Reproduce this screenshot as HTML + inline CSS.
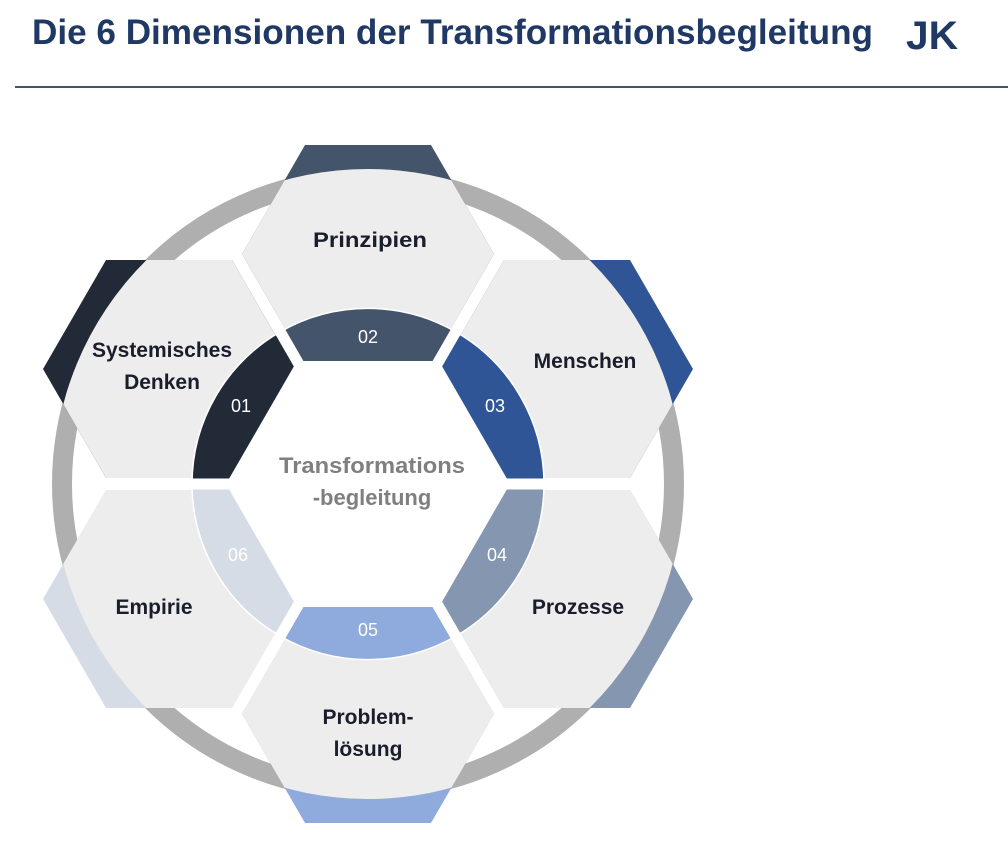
<!DOCTYPE html>
<html><head><meta charset="utf-8"><style>
html,body{margin:0;padding:0;background:#fff;}
body{width:1008px;height:863px;overflow:hidden;position:relative;font-family:"Liberation Sans",sans-serif;}
.ln{position:absolute;left:15px;top:86px;width:993px;height:2px;background:#44546a;}
svg{position:absolute;left:0;top:0;}
</style></head><body>
<div class="ln"></div>
<svg width="1008" height="863" viewBox="0 0 1008 863" font-family="'Liberation Sans',sans-serif">
<text x="32" y="44" font-size="35" font-weight="bold" fill="#1f3864" textLength="841" lengthAdjust="spacingAndGlyphs">Die 6 Dimensionen der Transformationsbegleitung</text>
<text x="906" y="49" font-size="40" font-weight="bold" fill="#1f3864" textLength="52" lengthAdjust="spacingAndGlyphs">JK</text>
<defs><clipPath id="d"><circle cx="368" cy="484" r="315"/></clipPath></defs>
<circle cx="368" cy="484" r="306" fill="none" stroke="#afafaf" stroke-width="20"/>
<g>
<polygon fill="#44546a" points="242,254 305,145 431,145 494,254 431,363 305,363"/>
<polygon fill="#2f5597" points="441,369 504,260 630,260 693,369 630,478 504,478"/>
<polygon fill="#8496b0" points="441,599 504,490 630,490 693,599 630,708 504,708"/>
<polygon fill="#8faadc" points="242,714 305,605 431,605 494,714 431,823 305,823"/>
<polygon fill="#d6dce5" points="43,599 106,490 232,490 295,599 232,708 106,708"/>
<polygon fill="#222a38" points="43,369 106,260 232,260 295,369 232,478 106,478"/>
</g>
<g clip-path="url(#d)" fill="#ededed">
<polygon points="242,254 305,145 431,145 494,254 431,363 305,363"/>
<polygon points="441,369 504,260 630,260 693,369 630,478 504,478"/>
<polygon points="441,599 504,490 630,490 693,599 630,708 504,708"/>
<polygon points="242,714 305,605 431,605 494,714 431,823 305,823"/>
<polygon points="43,599 106,490 232,490 295,599 232,708 106,708"/>
<polygon points="43,369 106,260 232,260 295,369 232,478 106,478"/>
</g>
<g stroke="#fff" stroke-width="1.5">
<path fill="#44546a" d="M368,484 L456,332 A176,176 0 0 0 280,332 Z"/>
<path fill="#2f5597" d="M368,484 L544,484 A176,176 0 0 0 456,332 Z"/>
<path fill="#8496b0" d="M368,484 L456,636 A176,176 0 0 0 544,484 Z"/>
<path fill="#8faadc" d="M368,484 L280,636 A176,176 0 0 0 456,636 Z"/>
<path fill="#d6dce5" d="M368,484 L192,484 A176,176 0 0 0 280,636 Z"/>
<path fill="#222a38" d="M368,484 L280,332 A176,176 0 0 0 192,484 Z"/>
</g>
<g stroke="#fff" stroke-width="11">
<line x1="368" y1="484" x2="556" y2="484"/>
<line x1="368" y1="484" x2="180" y2="484"/>
<line x1="368" y1="484" x2="462" y2="321"/>
<line x1="368" y1="484" x2="274" y2="321"/>
<line x1="368" y1="484" x2="462" y2="647"/>
<line x1="368" y1="484" x2="274" y2="647"/>
</g>
<polygon fill="#fff" points="226,484 297,361 439,361 510,484 439,607 297,607"/>
<g font-weight="bold" font-size="21" fill="#1a1d2b" text-anchor="middle">
<text x="370" y="247" textLength="114" lengthAdjust="spacingAndGlyphs">Prinzipien</text>
<text x="585" y="368">Menschen</text>
<text x="162" y="357">Systemisches</text>
<text x="162" y="389">Denken</text>
<text x="154" y="614">Empirie</text>
<text x="578" y="614">Prozesse</text>
<text x="368" y="724">Problem-</text>
<text x="368" y="756">lösung</text>
</g>
<g font-weight="bold" font-size="22" fill="#7f7f7f" text-anchor="middle">
<text x="372" y="473" textLength="186" lengthAdjust="spacingAndGlyphs">Transformations</text>
<text x="372" y="505">-begleitung</text>
</g>
<g font-size="18" fill="#fff" text-anchor="middle">
<text x="368" y="343">02</text>
<text x="495" y="412">03</text>
<text x="241" y="412">01</text>
<text x="497" y="561">04</text>
<text x="368" y="636">05</text>
<text x="238" y="561">06</text>
</g>
</svg>
</body></html>
